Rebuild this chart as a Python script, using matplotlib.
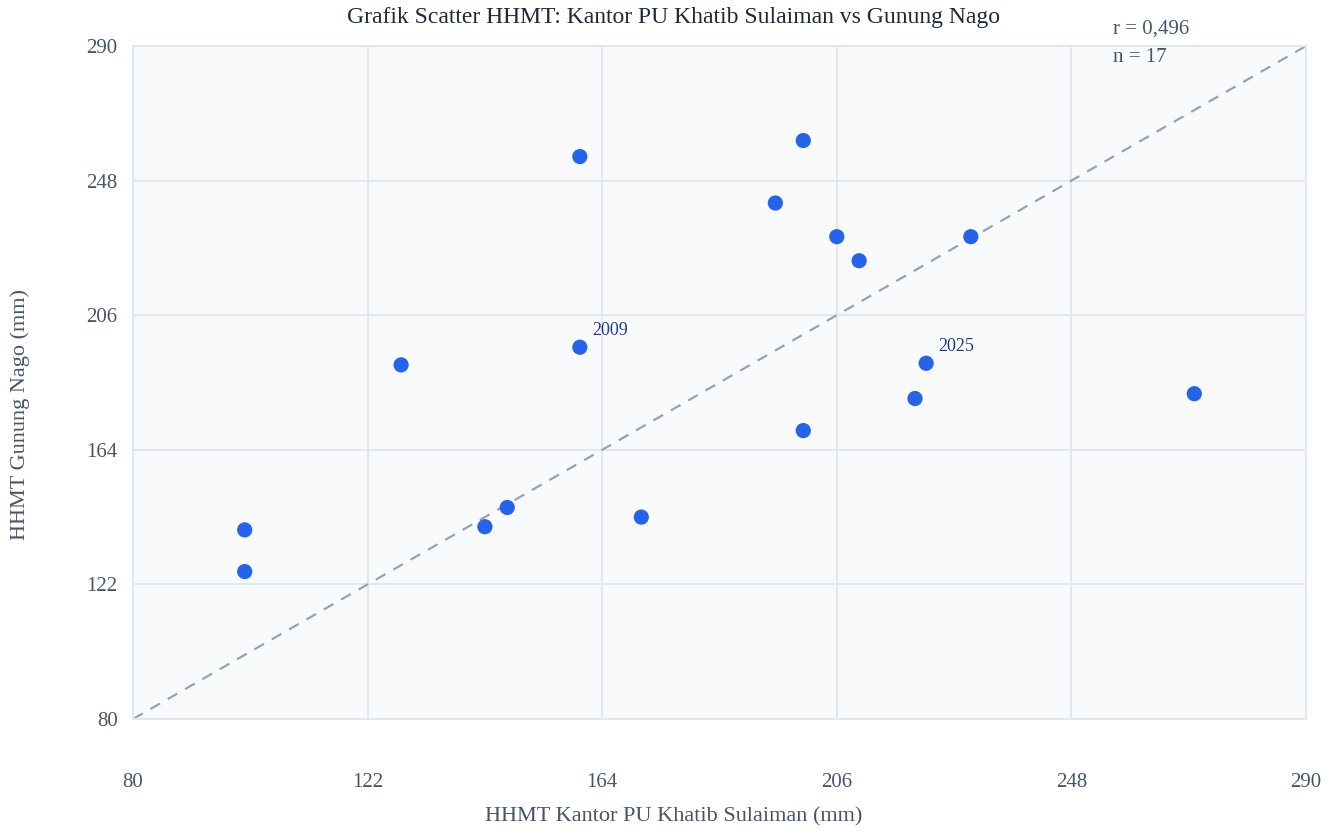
import matplotlib
matplotlib.use("Agg")
import matplotlib.pyplot as plt

# HHMT values (mm)
khatib = [100, 100, 128, 143, 147, 160, 160, 171, 195, 200, 200, 206, 210, 220, 222, 230, 270]
gunung = [139, 126, 190.5, 140, 146, 255.5, 196, 143, 241, 260.5, 170, 230.5, 223, 180, 191, 230.5, 181.5]
labels = {6: "2009", 14: "2025"}
ticks = [80, 122, 164, 206, 248, 290]

plt.rcParams['font.family'] = ['Liberation Serif', 'DejaVu Serif']

fig = plt.figure(figsize=(13.36, 8.35), dpi=100)
ax = fig.add_axes([133 / 1336, 1 - 719 / 835, (1306 - 133) / 1336, (719 - 46) / 835])
ax.set_facecolor('#f8fafc')

ax.plot([80, 290], [80, 290], linestyle=(0, (5, 4)), color='#94a3b8', lw=1.6, zorder=2)
ax.scatter(khatib, gunung, s=120, color='#2563eb', edgecolors='none', zorder=3)
for i, txt in labels.items():
    ax.annotate(txt, (khatib[i], gunung[i]), xytext=(9, 9), textcoords='offset points',
                fontsize=13, color='#1e3a8a')

ax.set_xlim(80, 290)
ax.set_ylim(80, 290)
ax.set_xticks(ticks)
ax.set_yticks(ticks)
ax.grid(True, color='#e2e8f0', lw=1.5, zorder=0)
ax.set_axisbelow(True)
for s in ax.spines.values():
    s.set_color('#e2e8f0')
    s.set_linewidth(1.5)
ax.tick_params(length=0, labelsize=15, colors='#475569')
ax.tick_params(axis='x', pad=39)
ax.tick_params(axis='y', pad=11)

fig.text(0.504, 1 - 18 / 835, 'Grafik Scatter HHMT: Kantor PU Khatib Sulaiman vs Gunung Nago',
         ha='center', va='center', fontsize=17, color='#1e293b')
fig.text(0.504, 1 - 817 / 835, 'HHMT Kantor PU Khatib Sulaiman (mm)',
         ha='center', va='center', fontsize=16, color='#475569')
fig.text(20 / 1336, 1 - 415 / 835, 'HHMT Gunung Nago (mm)', rotation=90,
         ha='center', va='center', fontsize=16, color='#475569')
fig.text(1113 / 1336, 1 - 29 / 835, 'r = 0,496', ha='left', va='center', fontsize=15, color='#475569')
fig.text(1113 / 1336, 1 - 57 / 835, 'n = 17', ha='left', va='center', fontsize=15, color='#475569')

fig.savefig('out.png', dpi=100, facecolor='white')
